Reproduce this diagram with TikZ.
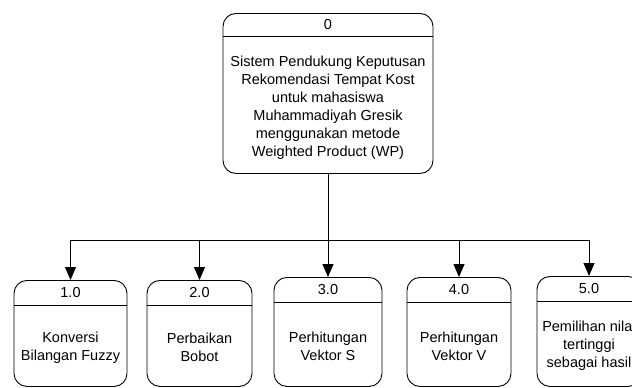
\documentclass[tikz,border=0pt]{standalone}
\usepackage{fontspec}
\setmainfont{Liberation Sans}
\usetikzlibrary{arrows.meta}

\begin{document}
\begin{tikzpicture}[x=1pt, y=-1pt, line width=.9pt,
  >={Triangle[length=13pt,width=11pt]},
  every node/.style={font=\fontsize{14.5}{18}\selectfont, inner sep=0pt},
  proc/.style={draw, rounded corners=13pt, anchor=north}]
\useasboundingbox (0,0) rectangle (632,388);
\clip (0,0) rectangle (632,388);
% context process
\node[proc, minimum width=210pt, minimum height=160pt] (p0) at (328,13) {};
\draw ([yshift=-23pt]p0.north west) -- ([yshift=-23pt]p0.north east);
\node (n0) at ([yshift=-11.5pt]p0.north) {0};
\node[align=center] (t0) at (328,108) {Sistem Pendukung Keputusan\\Rekomendasi Tempat Kost\\untuk mahasiswa\\Muhammadiyah Gresik\\menggunakan metode\\Weighted Product (WP)};
\coordinate (split) at (328,240.5);
\draw (p0.south) -- (split);
% sub processes
\foreach \nm/\cx/\tp/\bw/\lbl/\txt in {
  p1/70.5/280/113/1.0/{Konversi\\Bilangan Fuzzy},
  p2/199.5/280/105/2.0/{Perbaikan\\Bobot},
  p3/328/277/108/3.0/{Perhitungan\\Vektor S},
  p4/459/277/104/4.0/{Perhitungan\\Vektor V},
  p5/589/276/104/5.0/{Pemilihan nilai\\tertinggi\\sebagai hasil}} {
 \node[proc, minimum width=\bw pt, minimum height={(386-\tp)*1pt}] (\nm) at (\cx,\tp) {};
 \draw ([yshift=-25pt]\nm.north west) -- ([yshift=-25pt]\nm.north east);
 \node (\nm-num) at ([yshift=-12.5pt]\nm.north) {\lbl};
 \node[align=center] (\nm-txt) at (\cx,{(\tp+25+386)/2+2}) {\txt};
 \draw[->] (split) -| (\nm.north);
}
\end{tikzpicture}
\end{document}
